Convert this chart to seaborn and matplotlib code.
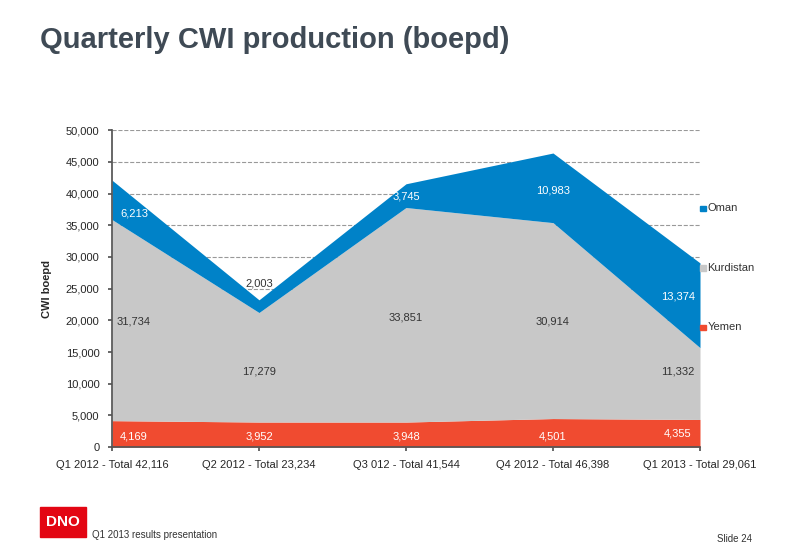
import matplotlib
matplotlib.use("Agg")
import matplotlib.pyplot as plt
import seaborn as sns
import numpy as np

sns.set_theme(style="white")
plt.rcParams['font.family'] = ['Liberation Sans', 'DejaVu Sans']

categories = ["Q1 2012 - Total 42,116", "Q2 2012 - Total 23,234", "Q3 012 - Total 41,544",
              "Q4 2012 - Total 46,398", "Q1 2013 - Total 29,061"]
yemen = [4169, 3952, 3948, 4501, 4355]
kurdistan = [31734, 17279, 33851, 30914, 11332]
oman = [6213, 2003, 3745, 10983, 13374]
series = ["Yemen", "Kurdistan", "Oman"]
colors = {"Yemen": "#F04B30", "Kurdistan": "#C8C8C8", "Oman": "#0082C8"}

fig = plt.figure(figsize=(8, 5.54), dpi=100)
ax = fig.add_axes([0.14, 0.193, 0.735, 0.572])
x = np.arange(len(categories))
ax.stackplot(x, yemen, kurdistan, oman, colors=[colors[s] for s in series], linewidth=0)
ax.set_xlim(0, 4)
ax.set_ylim(0, 50000)
ax.set_yticks(range(0, 50001, 5000))
ax.set_yticklabels([f"{v:,}" for v in range(0, 50001, 5000)], fontsize=8)
ax.set_xticks(x)
ax.set_xticklabels(categories, fontsize=8)
ax.yaxis.grid(True, linestyle="--", color="#999999", linewidth=0.8)
ax.set_axisbelow(True)
for sp in ["top", "right"]:
    ax.spines[sp].set_visible(False)
ax.spines["left"].set_color("#555555")
ax.spines["bottom"].set_color("#555555")
ax.tick_params(axis="both", length=3, color="#555555", left=True, bottom=True, pad=6)
ax.set_ylabel("CWI boepd", fontsize=8, fontweight="bold", labelpad=10)

xo = [0.15, 0.0, 0.0, 0.0, -0.15]
for i in range(5):
    ax.text(x[i] + xo[i], 1700 if i < 4 else 2200, f"{yemen[i]:,}", color="white", fontsize=8, ha="center", va="center")
ky = [19800, 12000, 20500, 19800, 12000]
oy = [36800, 25800, 39600, 40500, 23800]
for i in range(5):
    ax.text(x[i] + xo[i], ky[i], f"{kurdistan[i]:,}", color="#333333", fontsize=8, ha="center", va="center")
    ax.text(x[i] + xo[i], oy[i], f"{oman[i]:,}", color="#333333" if i == 1 else "white", fontsize=8, ha="center", va="center")

for s, yf in [("Oman", 0.625), ("Kurdistan", 0.517), ("Yemen", 0.41)]:
    fig.patches.append(plt.Rectangle((0.875, yf - 0.006), 0.007, 0.01, color=colors[s], transform=fig.transFigure))
    fig.text(0.884, yf, s, fontsize=8, va="center", color="#333333")

fig.text(0.05, 0.928, "Quarterly CWI production (boepd)", fontsize=21, fontweight="bold", color="#3F4A55", va="center")
fig.patches.append(plt.Rectangle((0.05, 0.03), 0.057, 0.055, color="#E30613", transform=fig.transFigure))
fig.text(0.0785, 0.057, "DNO", fontsize=11, fontweight="bold", color="white", ha="center", va="center")
fig.text(0.115, 0.028, "Q1 2013 results presentation", fontsize=7, color="#333333")
fig.text(0.94, 0.022, "Slide 24", fontsize=7, color="#333333", ha="right")
fig.savefig("out.png", dpi=100)
